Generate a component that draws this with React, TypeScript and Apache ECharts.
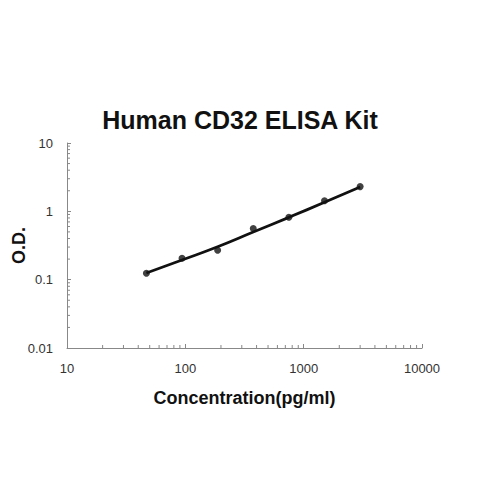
import { useEffect, useRef } from 'react';
import * as echarts from 'echarts';

const concentrations = [46.88, 93.75, 187.5, 375, 750, 1500, 3000];
const measuredOD = [0.124, 0.206, 0.27, 0.56, 0.82, 1.43, 2.3];
const fittedOD = [0.125, 0.194, 0.303, 0.498, 0.817, 1.355, 2.27];

const xDecades = [10, 100, 1000];
const yDecades = [0.01, 0.1, 1];
const minorSteps = [2, 3, 4, 5, 6, 7, 8, 9];

const FONT = "'Liberation Sans', Arial, sans-serif";

export default function App() {
  const chartRef = useRef<HTMLDivElement>(null);

  useEffect(() => {
    if (!chartRef.current) return;
    const chart = echarts.init(chartRef.current, undefined, { renderer: 'svg' });

    // minor tick marks along both log axes
    const minorTicks: number[][] = [];
    xDecades.forEach((d) => minorSteps.forEach((s) => minorTicks.push([d * s, 0.01, 0])));
    yDecades.forEach((d) => minorSteps.forEach((s) => minorTicks.push([10, d * s, 1])));

    const option: any = {
      animation: false,
      backgroundColor: '#fff',
      title: {
        text: 'Human CD32 ELISA Kit',
        left: 'center',
        top: 102,
        textStyle: { fontFamily: FONT, fontSize: 25, fontWeight: 'bold', color: '#111' },
      },
      grid: {
        left: 67,
        right: 58,
        top: 143,
        bottom: 134,
        containLabel: false,
        outerBoundsMode: 'none',
      },
      xAxis: {
        type: 'log',
        logBase: 10,
        min: 10,
        max: 10000,
        name: 'Concentration(pg/ml)',
        nameLocation: 'middle',
        nameGap: 41,
        nameMoveOverlap: false,
        nameTextStyle: { fontFamily: FONT, fontSize: 18, fontWeight: 'bold', color: '#111' },
        axisLine: { lineStyle: { color: '#888', width: 1 } },
        axisTick: { show: true, inside: true, length: 4, lineStyle: { color: '#888' } },
        axisLabel: {
          fontFamily: FONT,
          fontSize: 13,
          color: '#333',
          margin: 14,
          formatter: (v: number) => String(v),
        },
        splitLine: { show: false },
      },
      yAxis: {
        type: 'log',
        logBase: 10,
        min: 0.01,
        max: 10,
        name: 'O.D.',
        nameLocation: 'middle',
        nameGap: 39,
        nameMoveOverlap: false,
        nameTextStyle: { fontFamily: FONT, fontSize: 18, fontWeight: 'bold', color: '#111' },
        axisLine: { show: true, lineStyle: { color: '#888', width: 1 } },
        axisTick: { show: true, inside: true, length: 4, lineStyle: { color: '#888' } },
        axisLabel: {
          fontFamily: FONT,
          fontSize: 13,
          color: '#333',
          margin: 14,
          formatter: (v: number) => String(v),
        },
        splitLine: { show: false },
      },
      series: [
        {
          type: 'custom',
          silent: true,
          data: minorTicks,
          renderItem: (_params: any, api: any) => {
            const p = api.coord([api.value(0), api.value(1)]);
            const vertical = api.value(2) === 0;
            return {
              type: 'line',
              shape: vertical
                ? { x1: p[0], y1: p[1], x2: p[0], y2: p[1] - 3 }
                : { x1: p[0], y1: p[1], x2: p[0] + 3, y2: p[1] },
              style: { stroke: '#888', lineWidth: 1 },
            };
          },
          z: 1,
        },
        {
          type: 'line',
          data: concentrations.map((c, i) => [c, fittedOD[i]]),
          smooth: true,
          showSymbol: false,
          lineStyle: { color: '#111', width: 2.8 },
          z: 2,
        },
        {
          type: 'scatter',
          data: concentrations.map((c, i) => [c, measuredOD[i]]),
          symbol: 'circle',
          symbolSize: 7,
          itemStyle: { color: '#111' },
          z: 3,
        },
      ],
    };

    chart.setOption(option);
    return () => chart.dispose();
  }, []);

  return (
    <div
      ref={chartRef}
      style={{ position: 'fixed', left: 0, top: 0, width: 480, height: 482 }}
    />
  );
}
